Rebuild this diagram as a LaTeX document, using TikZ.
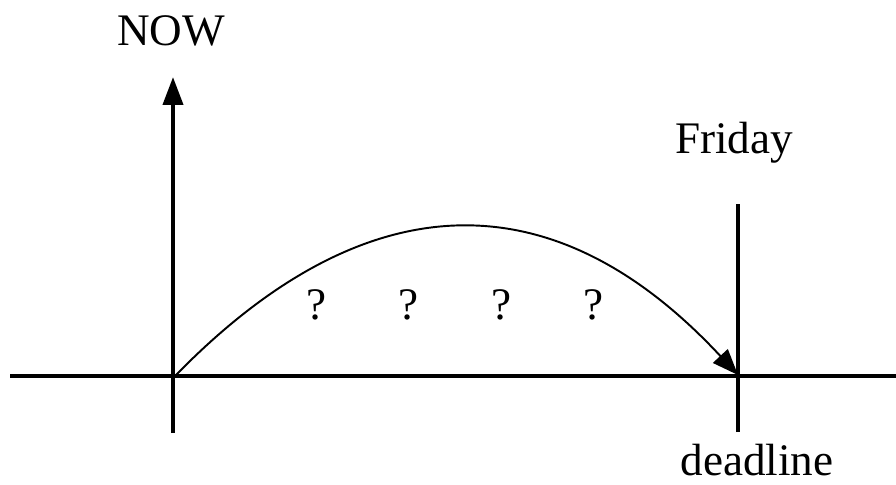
\documentclass[tikz,border=0pt]{standalone}
\usepackage{fontspec}
\setmainfont{Liberation Serif}
\usetikzlibrary{arrows.meta}

\begin{document}
\begin{tikzpicture}[x=0.02cm,y=-0.02cm,
    axis/.style={line width=2.3pt},
    lbl/.style={font=\fontsize{25.7}{30}\selectfont, anchor=base, inner sep=0pt}]
  \useasboundingbox (0,0) rectangle (896,484);
  \coordinate (left) at (10,376);
  \coordinate (right) at (896,376);
  \coordinate (nowtop) at (173,77);
  \coordinate (nowbot) at (173,433);
  \coordinate (fritop) at (738,204);
  \coordinate (fribot) at (738,432);
  \coordinate (nowpt) at (175,376);
  \coordinate (fript) at (738,375);
  \draw[axis] (left) -- (right);
  \draw[axis, -{Triangle[length=5.6mm,width=4mm]}] (nowbot) -- (nowtop);
  \draw[axis] (fribot) -- (fritop);
  \draw[line width=1.1pt, -{Triangle[length=5.2mm,width=4mm]}] (nowpt) .. controls (367,179) and (555,178) .. (fript);
  \node[lbl] (now) at (171,45) {NOW};
  \node[lbl] (friday) at (734,153) {Friday};
  \node[lbl] (deadline) at (757,475) {deadline};
  \foreach \x in {317,409,502,594}
    \node[lbl] (q\x) at (\x,319) {?};
\end{tikzpicture}
\end{document}
